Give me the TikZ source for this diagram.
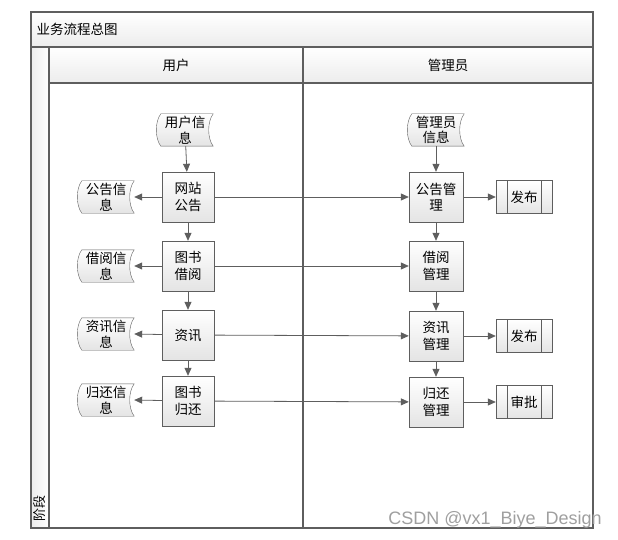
\documentclass[tikz,border=0pt]{standalone}
\usepackage{fontspec}
\setmainfont{Liberation Sans}
\newfontfamily\cjk{Noto Sans CJK SC}
\usetikzlibrary{arrows.meta,backgrounds}

\definecolor{linegray}{HTML}{5E5E5E}
\definecolor{shadegray}{HTML}{E4E4E4}

\tikzset{
  procbox/.style={draw=linegray, top color=white, bottom color=shadegray,
    minimum width=52pt, minimum height=50pt, inner sep=0pt, align=center,
    font=\cjk\fontsize{13.5}{16.5}\selectfont},
  datanode/.style={minimum width=56pt, minimum height=32pt, inner sep=0pt,
    align=center, font=\cjk\fontsize{13.5}{15.5}\selectfont},
  subproc/.style={draw=linegray, top color=white, bottom color=shadegray,
    minimum width=56pt, minimum height=33pt, inner sep=0pt,
    font=\cjk\fontsize{13.5}{15}\selectfont},
  flow/.style={draw=linegray, line width=0.8pt,
    -{Triangle[length=8pt,width=7pt]}},
  frameline/.style={draw=linegray, line width=1.2pt},
  headshade/.style={top color=white, bottom color=shadegray!70},
}

\begin{document}
\begin{tikzpicture}[x=1pt, y=-1pt]
      \useasboundingbox (0,0) rectangle (618,540);

      % frame and lanes
      \draw[frameline, headshade] (31,12) rectangle (593,47);
      \draw[frameline, left color=shadegray!70, right color=white] (31,47) rectangle (49,528);
      \draw[frameline, headshade] (49,47) rectangle (303,83);
      \draw[frameline, headshade] (303,47) rectangle (593,83);
      \draw[frameline] (49,83) rectangle (303,528);
      \draw[frameline] (303,83) rectangle (593,528);

      \node[right, font=\cjk\fontsize{13.5}{15}\selectfont] (title) at (33,29) {业务流程总图};
      \node[font=\cjk\fontsize{13.5}{15}\selectfont] (userlane) at (176,65) {用户};
      \node[font=\cjk\fontsize{13.5}{15}\selectfont] (adminlane) at (448,65) {管理员};
      \node[rotate=90, font=\cjk\fontsize{13}{15}\selectfont] (stage) at (40,508) {阶段};

      % user lane
      \node[datanode] (userinfo) at (185,130) {用户信\\息};
      \node[procbox] (notice) at (188,197) {网站\\公告};
      \node[procbox] (borrow) at (188,266) {图书\\借阅};
      \node[procbox] (news) at (188,335) {资讯};
      \node[procbox] (giveback) at (188,401) {图书\\归还};

      \node[datanode] (noticeinfo) at (106,197) {公告信\\息};
      \node[datanode] (borrowinfo) at (106,266) {借阅信\\息};
      \node[datanode] (newsinfo) at (106,334) {资讯信\\息};
      \node[datanode] (givebackinfo) at (106,400) {归还信\\息};

      % admin lane
      \node[datanode] (admininfo) at (436,130) {管理员\\信息};
      \node[procbox, minimum width=54pt] (noticemgr) at (436,197) {公告管\\理};
      \node[procbox, minimum width=54pt] (borrowmgr) at (436,266) {借阅\\管理};
      \node[procbox, minimum width=54pt] (newsmgr) at (436,336) {资讯\\管理};
      \node[procbox, minimum width=54pt] (givebackmgr) at (436,402) {归还\\管理};

      \node[subproc] (publishA) at (524,197) {发布};
      \node[subproc] (publishB) at (524,336) {发布};
      \node[subproc] (approve) at (524,402) {审批};

      % stored data outlines
      \begin{scope}[on background layer]
        \foreach \d in {userinfo,noticeinfo,borrowinfo,newsinfo,givebackinfo,admininfo}
          \draw[draw=linegray, top color=white, bottom color=shadegray]
            ([xshift=4pt]\d.north west) -- (\d.north east)
            .. controls ([xshift=-6pt,yshift=-8pt]\d.north east)
                    and ([xshift=-6pt,yshift=8pt]\d.south east) .. (\d.south east)
            -- ([xshift=4pt]\d.south west)
            .. controls ([xshift=-2pt,yshift=8pt]\d.south west)
                    and ([xshift=-2pt,yshift=-8pt]\d.north west) .. cycle;
      \end{scope}
      \foreach \p in {publishA,publishB,approve} {
        \draw[linegray] ([xshift=11pt]\p.north west) -- ([xshift=11pt]\p.south west);
        \draw[linegray] ([xshift=-11pt]\p.north east) -- ([xshift=-11pt]\p.south east);
      }

      % flows
      \draw[flow] (userinfo) -- (notice);
      \draw[flow] (notice) -- (borrow);
      \draw[flow] (borrow) -- (news);
      \draw[flow] (news) -- (giveback);

      \draw[flow] (notice) -- (noticeinfo.east);
      \draw[flow] (borrow) -- (borrowinfo.east);
      \draw[flow] (news) -- (newsinfo.east);
      \draw[flow] (giveback) -- (givebackinfo.east);

      \draw[flow] (notice) -- (noticemgr);
      \draw[flow] (borrow) -- (borrowmgr);
      \draw[flow] (news) -- (newsmgr);
      \draw[flow] (giveback) -- (givebackmgr);

      \draw[flow] (admininfo) -- (noticemgr);
      \draw[flow] (noticemgr) -- (borrowmgr);
      \draw[flow] (borrowmgr) -- (newsmgr);
      \draw[flow] (newsmgr) -- (givebackmgr);

      \draw[flow] (noticemgr) -- (publishA);
      \draw[flow] (newsmgr) -- (publishB);
      \draw[flow] (givebackmgr) -- (approve);

      \node[text=gray!75, font=\fontsize{18}{18}\selectfont] (mark) at (495,520) {CSDN @vx1\_Biye\_Design};
\end{tikzpicture}
\end{document}
